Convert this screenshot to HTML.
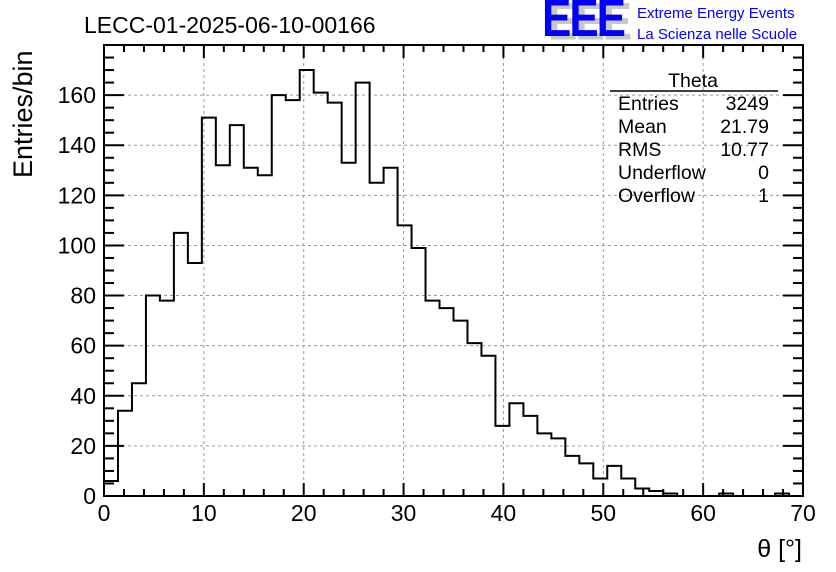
<!DOCTYPE html>
<html><head><meta charset="utf-8">
<style>
html,body{margin:0;padding:0;background:#fff;}
svg{display:block;font-family:"Liberation Sans",Arial,sans-serif;}
</style></head>
<body>
<svg id="chart" width="836" height="572" viewBox="0 0 836 572" xmlns="http://www.w3.org/2000/svg">
  <text x="84" y="33" font-size="23">LECC-01-2025-06-10-00166</text>
  <g>
    <g transform="translate(0,37) scale(1,1.2) translate(0,-37)">
      <text x="548" y="39" font-size="44" font-weight="bold" fill="#c8c8c8" letter-spacing="-2">EEE</text>
    </g>
    <g transform="translate(0,36) scale(1,1.2) translate(0,-36)">
      <text x="542" y="36" font-size="44" font-weight="bold" fill="#0000ff" letter-spacing="-2">EEE</text>
    </g>
    <text x="637" y="18" font-size="15" fill="#0000ff">Extreme Energy Events</text>
    <text x="637" y="39" font-size="15" fill="#0000ff">La Scienza nelle Scuole</text>
  </g>
  <g id="grid"></g>
  <path id="hist" fill="none" stroke="#000" stroke-width="2"></path>
  <g id="axes"></g>
  <text transform="translate(32,178) rotate(-90)" font-size="27" text-anchor="start">Entries/bin</text>
  <text x="802" y="557" font-size="25" text-anchor="end">θ [°]</text>
  <g font-size="19.5">
    <text x="693" y="87" text-anchor="middle">Theta</text>
    <line x1="610" y1="91" x2="778" y2="91" stroke="#000" stroke-width="1.5"/>
    <text x="618" y="110">Entries</text><text x="769" y="110" text-anchor="end">3249</text>
    <text x="618" y="133">Mean</text><text x="769" y="133" text-anchor="end">21.79</text>
    <text x="618" y="156">RMS</text><text x="769" y="156" text-anchor="end">10.77</text>
    <text x="618" y="179">Underflow</text><text x="769" y="179" text-anchor="end">0</text>
    <text x="618" y="202">Overflow</text><text x="769" y="202" text-anchor="end">1</text>
  </g>
</svg>
<script>
const counts = [6,34,45,80,78,105,93,151,132,148,131,128,160,158,170,161,157,133,165,125,131,108,99,78,75,70,61,56,28,37,32,25,23,16,13,7,12,7,3,2,1,0,0,0,1,0,0,0,1,0];
const xTicks = [0,10,20,30,40,50,60,70];
const yTicks = [0,20,40,60,80,100,120,140,160];
const xMin = 0, xMax = 70, yMin = 0, yMax = 180;
const L = 104, R = 803, T = 45, B = 496;
const sx = v => L + (v - xMin) / (xMax - xMin) * (R - L);
const sy = v => B - (v - yMin) / (yMax - yMin) * (B - T);
const NS = "http://www.w3.org/2000/svg";
function mk(tag, attrs, parent){const e=document.createElementNS(NS,tag);for(const k in attrs)e.setAttribute(k,attrs[k]);parent.appendChild(e);return e;}
const grid = document.getElementById('grid');
const axes = document.getElementById('axes');
xTicks.forEach(v=>{ if(v>xMin&&v<xMax){const l=mk('line',{x1:sx(v),x2:sx(v),y1:T,y2:B,stroke:'#999','stroke-dasharray':'3,3','stroke-width':1},grid);

}});
yTicks.forEach(v=>{ if(v>yMin&&v<yMax){const l=mk('line',{x1:L,x2:R,y1:sy(v),y2:sy(v),stroke:'#999','stroke-dasharray':'3,3','stroke-width':1},grid);

}});
const w = (xMax - xMin) / counts.length;
let d = `M${sx(0)},${sy(0)}`;
counts.forEach((c,i)=>{ d += ` L${sx(i*w)},${sy(c)} L${sx((i+1)*w)},${sy(c)}`; });
d += ` L${sx(xMax)},${sy(0)}`;
document.getElementById('hist').setAttribute('d', d);
const fr = mk('rect',{x:L,y:T,width:R-L,height:B-T,fill:'none',stroke:'#000','stroke-width':2},axes);


for(let v=xMin; v<=xMax+1e-9; v+=2){
  const major = v%10===0; const len = major?13:7;
  mk('line',{x1:sx(v),x2:sx(v),y1:B,y2:B-len,stroke:'#000','stroke-width':2},axes);
  mk('line',{x1:sx(v),x2:sx(v),y1:T,y2:T+len,stroke:'#000','stroke-width':2},axes);
}
xTicks.forEach(v=>{const t=mk('text',{x:sx(v),y:B+25,'font-size':23,'text-anchor':'middle'},axes);t.textContent=v;

});
for(let v=yMin; v<=yMax; v+=5){
  const major = v%20===0; const len = major?20:10;
  mk('line',{x1:L,x2:L+len,y1:sy(v),y2:sy(v),stroke:'#000','stroke-width':2},axes);
  mk('line',{x1:R,x2:R-len,y1:sy(v),y2:sy(v),stroke:'#000','stroke-width':2},axes);
}
yTicks.forEach(v=>{const t=mk('text',{x:L-8,y:sy(v)+8,'font-size':23,'text-anchor':'end'},axes);t.textContent=v;

});
</script>
</body></html>
